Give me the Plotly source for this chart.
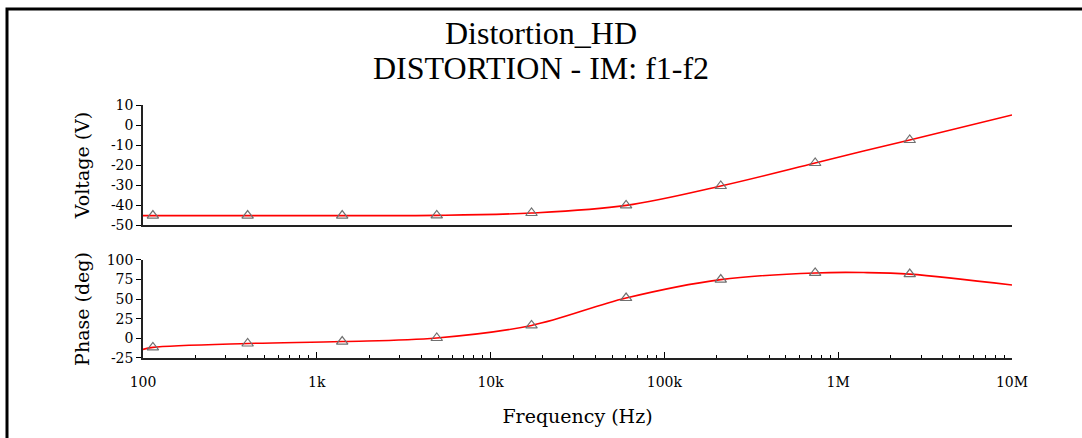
import plotly.graph_objects as go
from plotly.subplots import make_subplots

# Data
marker_freq = [114, 400, 1400, 4900, 17200, 60200, 211000, 737000, 2580000]
voltage_markers = [-45.3, -45.3, -45.3, -45.2, -44.0, -40.2, -30.5, -19.0, -7.5]
phase_markers = [-11.5, -6.5, -4.0, 0.5, 16.5, 51.5, 75.0, 83.5, 82.0]

curve_freq = [100, 114, 400, 1400, 4900, 17200, 60200, 211000, 737000, 1400000, 2580000, 10000000]
voltage_curve = [-45.3, -45.3, -45.3, -45.3, -45.2, -44.0, -40.2, -30.5, -19.0, -13.0, -7.5, 5.0]
phase_curve = [-14.0, -11.5, -6.5, -4.0, 0.5, 16.5, 51.5, 75.0, 83.5, 84.0, 82.0, 68.0]

x_tickvals = [100, 1e3, 1e4, 1e5, 1e6, 1e7]
x_ticktext = ["100", "1k", "10k", "100k", "1M", "10M"]
minor_vals = [m * 10 ** e for e in range(2, 7) for m in range(2, 10)]
v_ticks = [-50, -40, -30, -20, -10, 0, 10]
v_ticktext = ["-50", "-40", "-30", "-20", "-10", "0", "10"]
p_ticks = [-25, 0, 25, 50, 75, 100]
p_ticktext = ["-25", "0", "25", "50", "75", "100"]

TITLE_FONT = "Liberation Serif"
FONT = "DejaVu Serif"
RED = "#ff0000"
GRAY = "#707070"

fig = make_subplots(rows=2, cols=1, shared_xaxes=False)

fig.add_trace(go.Scatter(x=curve_freq, y=voltage_curve, mode="lines",
                         line=dict(color=RED, width=1.6, shape="spline"),
                         showlegend=False), row=1, col=1)
fig.add_trace(go.Scatter(x=marker_freq, y=voltage_markers, mode="markers",
                         marker=dict(symbol="triangle-up-open", size=10,
                                     color=GRAY, line=dict(width=1.2, color=GRAY)),
                         showlegend=False), row=1, col=1)
fig.add_trace(go.Scatter(x=curve_freq, y=phase_curve, mode="lines",
                         line=dict(color=RED, width=1.6, shape="spline"),
                         showlegend=False), row=2, col=1)
fig.add_trace(go.Scatter(x=marker_freq, y=phase_markers, mode="markers",
                         marker=dict(symbol="triangle-up-open", size=10,
                                     color=GRAY, line=dict(width=1.2, color=GRAY)),
                         showlegend=False), row=2, col=1)

tickfont = dict(family=FONT, size=14, color="black")
axtitlefont = dict(family=FONT, size=19, color="black")

fig.update_xaxes(type="log", range=[2, 7], showgrid=False, zeroline=False,
                 showline=True, linecolor="#222222", linewidth=2,
                 tickvals=[], showticklabels=False, row=1, col=1)
fig.update_xaxes(type="log", range=[2, 7], showgrid=False, zeroline=False,
                 showline=True, linecolor="#222222", linewidth=1.5,
                 tickvals=x_tickvals, ticktext=x_ticktext, ticks="inside",
                 ticklen=6, tickcolor="black", tickwidth=1,
                 minor=dict(tickvals=minor_vals, ticks="inside", ticklen=3,
                            tickcolor="black", tickwidth=1, showgrid=False),
                 tickfont=tickfont, ticklabelstandoff=10,
                 title=dict(text="Frequency (Hz)", font=axtitlefont, standoff=21),
                 row=2, col=1)
fig.update_yaxes(range=[-50, 10], tickvals=v_ticks, ticktext=v_ticktext,
                 showgrid=False, zeroline=False,
                 showline=True, linecolor="#222222", linewidth=1.5,
                 ticks="outside", ticklen=5, tickcolor="black",
                 tickfont=tickfont,
                 title=dict(text="Voltage (V)", font=axtitlefont, standoff=16),
                 domain=[0.5257, 1.0], row=1, col=1)
fig.update_yaxes(range=[-25, 100], tickvals=p_ticks, ticktext=p_ticktext,
                 showgrid=False, zeroline=False,
                 showline=True, linecolor="#222222", linewidth=1.5,
                 ticks="outside", ticklen=5, tickcolor="black",
                 tickfont=tickfont,
                 title=dict(text="Phase (deg)", font=axtitlefont, standoff=12),
                 domain=[0.0, 0.3874], row=2, col=1)
fig.update_xaxes(domain=[0, 1])

title_x = (541 - 143) / 869
fig.add_annotation(text="Distortion_HD", xref="paper", yref="paper",
                   x=title_x, y=(358 - 33) / 253, yanchor="middle", showarrow=False,
                   font=dict(family=TITLE_FONT, size=32, color="black"))
fig.add_annotation(text="DISTORTION - IM: f1-f2", xref="paper", yref="paper",
                   x=title_x, y=(358 - 68) / 253, yanchor="middle", showarrow=False,
                   font=dict(family=TITLE_FONT, size=32, color="black"))

# outer frame (top and left edges visible)
fig.add_shape(type="rect", xref="paper", yref="paper",
              x0=(7 - 143) / 869, x1=1.2, y0=-0.6, y1=(358 - 9) / 253,
              line=dict(color="black", width=3))

fig.update_layout(width=1082, height=438,
                  margin=dict(l=143, r=70, t=105, b=80),
                  paper_bgcolor="white", plot_bgcolor="white",
                  font=dict(family=FONT, color="black"))

fig.write_html("out.html", config={"displayModeBar": False},
               post_script="document.body.style.margin='0px';document.body.style.overflow='hidden';")
